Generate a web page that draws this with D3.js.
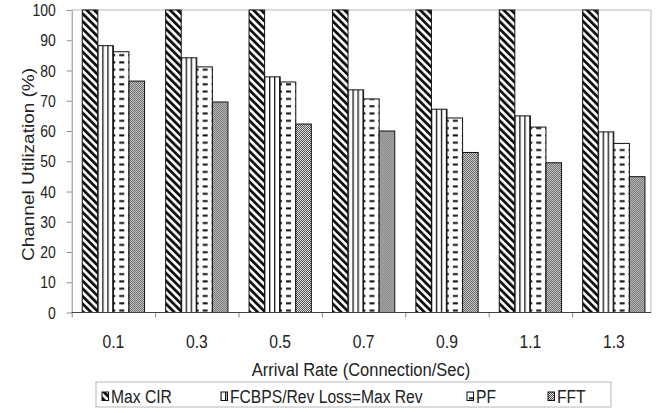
<!DOCTYPE html>
<html>
<head>
<meta charset="utf-8">
<script src="https://cdn.jsdelivr.net/npm/d3@7"></script>
<style>
	body { margin: 0; background: #fff; }
	svg { display: block; font-family: "Liberation Sans", Arial, Helvetica, sans-serif; }
</style>
</head>
<body>
<svg id="chart" width="658" height="413"></svg>
<script>
// data
var rates = ["0.1", "0.3", "0.5", "0.7", "0.9", "1.1", "1.3"];
var seriesNames = ["Max CIR", "FCBPS/Rev Loss=Max Rev", "PF", "FFT"];
var maxCir = [100, 100, 100, 100, 100, 100, 100];
var fcbps = [88.2, 84.2, 77.9, 73.6, 67.2, 65.0, 59.7];
var pf = [86.2, 81.2, 76.2, 70.6, 64.3, 61.3, 55.9];
var fft = [76.5, 69.6, 62.3, 60.0, 52.9, 49.5, 44.9];
var yTicks = [0, 10, 20, 30, 40, 50, 60, 70, 80, 90, 100];

var series = [maxCir, fcbps, pf, fft];
var fills = ["url(#pMax)", "url(#pFcb)", "url(#pPf)", "url(#pFft)"];

var SX = 0.87; // the reference text is squeezed sideways

var svg = d3.select("#chart");
var plotLeft = 71.7, plotTop = 10, plotBottom = 312.5, rightBorder = 651;

var x0 = d3.scaleBand().domain(rates).range([plotLeft, plotLeft + 83.4 * rates.length])
	.paddingInner(0.253).paddingOuter(0.1265);
var x1 = d3.scaleBand().domain(d3.range(series.length)).range([0, x0.bandwidth()]);
var y = d3.scaleLinear().domain([0, 100]).range([plotBottom, plotTop]);

function put(sel, x, yy, rot) {
	sel.attr("transform", "translate(" + x + "," + yy + ") scale(" + SX + ",1)" + (rot ? " rotate(" + rot + ")" : ""));
}

// patterns
var defs = svg.append("defs");

var p = defs.append("pattern").attr("id", "pMax").attr("patternUnits", "userSpaceOnUse")
	.attr("width", 5.4).attr("height", 10).attr("patternTransform", "rotate(-45)");
p.append("rect").attr("width", 5.4).attr("height", 10).attr("fill", "#fff");
p.append("rect").attr("width", 2.8).attr("height", 10).attr("fill", "#111");

p = defs.append("pattern").attr("id", "pFcb").attr("patternUnits", "userSpaceOnUse")
	.attr("width", 5).attr("height", 10);
p.append("rect").attr("width", 5).attr("height", 10).attr("fill", "#fff");
p.append("rect").attr("width", 1.3).attr("height", 10).attr("fill", "#111");

p = defs.append("pattern").attr("id", "pPf").attr("patternUnits", "userSpaceOnUse")
	.attr("width", 9).attr("height", 7.3);
p.append("rect").attr("width", 9).attr("height", 7.3).attr("fill", "#fff");
p.append("rect").attr("x", 1).attr("y", 3).attr("width", 5).attr("height", 2).attr("fill", "#111");

p = defs.append("pattern").attr("id", "pFft").attr("patternUnits", "userSpaceOnUse")
	.attr("width", 2).attr("height", 2);
p.append("rect").attr("width", 2).attr("height", 2).attr("fill", "#e8e8e8");
p.append("rect").attr("width", 1).attr("height", 1).attr("fill", "#4a4a4a");
p.append("rect").attr("x", 1).attr("y", 1).attr("width", 1).attr("height", 1).attr("fill", "#4a4a4a");

// plot frame (top and right)
svg.append("path")
	.attr("d", "M" + plotLeft + "," + plotTop + "H" + rightBorder + "V" + plotBottom)
	.attr("fill", "none").attr("stroke", "#b8b8b8").attr("stroke-width", 1);

// bars
var groups = svg.append("g").selectAll("g")
	.data(rates)
	.enter().append("g")
	.attr("transform", function(d) { return "translate(" + x0(d) + ",0)"; });

groups.selectAll("rect")
	.data(function(d, i) { return series.map(function(s, k) { return { k: k, v: s[i] }; }); })
	.enter().append("rect")
	.attr("x", function(d) { return x1(d.k); })
	.attr("y", function(d) { return y(d.v); })
	.attr("width", x1.bandwidth())
	.attr("height", function(d) { return plotBottom - y(d.v); })
	.attr("fill", function(d) { return fills[d.k]; })
	.attr("stroke", "#111")
	.attr("stroke-width", 1);

// y axis
var yAxis = svg.append("g")
	.attr("transform", "translate(" + plotLeft + ",0)")
	.call(d3.axisLeft(y).tickValues(yTicks).tickSize(5).tickSizeOuter(0));
yAxis.select(".domain").attr("stroke", "#8a8a8a");
yAxis.selectAll(".tick line").attr("stroke", "#8a8a8a");
yAxis.selectAll(".tick text")
	.attr("x", null).attr("dy", "0.35em")
	.attr("font-size", 16).attr("fill", "#222")
	.each(function() { put(d3.select(this), -16, 0); });

// x axis: boundary ticks and centred labels
var xb = d3.scaleLinear().domain([0, rates.length]).range([plotLeft, plotLeft + 83.4 * rates.length]);
var xAxis = svg.append("g")
	.attr("transform", "translate(0," + plotBottom + ")")
	.call(d3.axisBottom(xb).tickValues(d3.range(rates.length)).tickFormat("").tickSize(5).tickSizeOuter(0));
xAxis.select(".domain").remove();
xAxis.selectAll(".tick line").attr("stroke", "#8a8a8a");
svg.append("line")
	.attr("x1", plotLeft).attr("x2", rightBorder).attr("y1", plotBottom).attr("y2", plotBottom)
	.attr("stroke", "#444").attr("stroke-width", 1);

svg.append("g").selectAll("text")
	.data(rates)
	.enter().append("text")
	.attr("text-anchor", "middle").attr("font-size", 18).attr("fill", "#222")
	.text(function(d) { return d; })
	.each(function(d) { put(d3.select(this), x0(d) + x0.bandwidth() / 2, 347.5); });

// axis titles
put(svg.append("text").attr("text-anchor", "middle").attr("font-size", 19).attr("fill", "#222")
	.text("Arrival Rate (Connection/Sec)"), 361, 376);
put(svg.append("text").attr("text-anchor", "middle").attr("font-size", 19).attr("fill", "#222")
	.text("Channel Utilization (%)"), 34, 164.5, -90);

// legend
var legX = [102, 221, 467, 548];
svg.append("rect")
	.attr("x", 96).attr("y", 382).attr("width", 515).attr("height", 25)
	.attr("fill", "#fff").attr("stroke", "#b8b8b8").attr("stroke-width", 1);

var leg = svg.append("g").selectAll("g")
	.data(seriesNames)
	.enter().append("g");
leg.append("rect")
	.attr("x", function(d, i) { return legX[i]; })
	.attr("y", 392).attr("width", 6.5).attr("height", 8.5)
	.attr("fill", function(d, i) { return fills[i]; })
	.attr("stroke", "#111").attr("stroke-width", 1);
leg.append("text")
	.attr("font-size", 18).attr("fill", "#222")
	.text(function(d) { return d; })
	.each(function(d, i) { put(d3.select(this), legX[i] + 9, 403); });
</script>
</body>
</html>
